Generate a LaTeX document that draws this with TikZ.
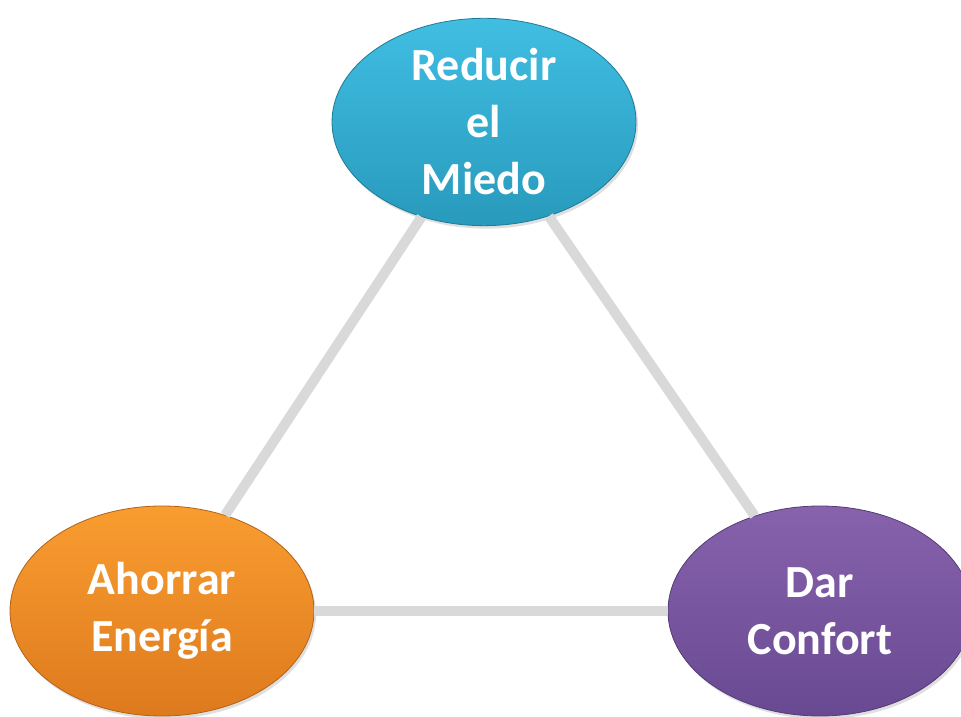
\documentclass[tikz,border=0pt]{standalone}
\usepackage{fontspec}
\setmainfont{Carlito}
\usetikzlibrary{shapes.geometric,shadows}

\definecolor{linkgray}{RGB}{217,217,217}
\definecolor{miedotop}{RGB}{64,190,226}
\definecolor{miedobot}{RGB}{40,154,188}
\definecolor{energiatop}{RGB}{249,157,48}
\definecolor{energiabot}{RGB}{222,122,30}
\definecolor{confortop}{RGB}{136,98,172}
\definecolor{conforbot}{RGB}{104,74,146}

\begin{document}
\begin{tikzpicture}[x=1pt,y=1pt,
  goal/.style={ellipse,minimum width=304pt,minimum height=210pt,inner sep=0pt,
    align=center,text=white,font=\bfseries\fontsize{46}{57}\selectfont,
    drop shadow={opacity=0.25,shadow xshift=2pt,shadow yshift=-3pt}},
  link/.style={linkgray,line width=10pt}]
	\useasboundingbox (0,0) rectangle (961,717);
	\node[goal,minimum height=206pt,top color=miedotop,bottom color=miedobot,draw=miedobot!80!black,line width=0.8pt] (miedo) at (484,595) {Reducir\\el\\Miedo};
	\node[goal,top color=energiatop,bottom color=energiabot,draw=energiabot!80!black,line width=0.8pt] (energia) at (162,106) {Ahorrar\\Energía};
	\node[goal,top color=confortop,bottom color=conforbot,draw=conforbot!80!black,line width=0.8pt] (confort) at (820,106) {Dar\\Confort};
	\draw[link] (miedo) -- (energia);
	\draw[link] (miedo) -- (confort);
	\draw[link] (energia) -- (confort);
\end{tikzpicture}
\end{document}
